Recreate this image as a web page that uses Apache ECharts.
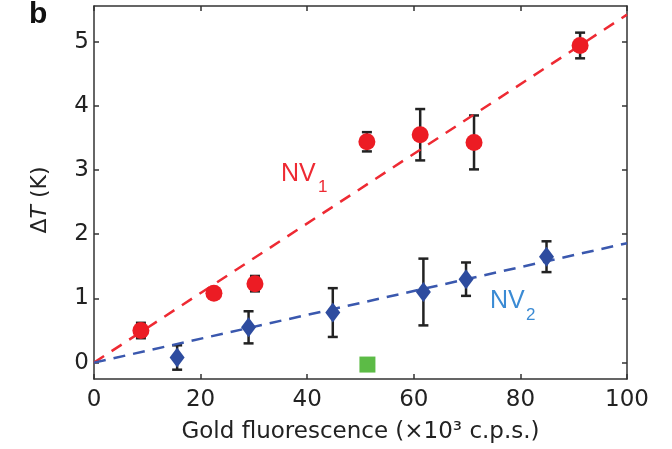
<!DOCTYPE html>
<html>
<head>
<meta charset="utf-8">
<script src="https://cdn.jsdelivr.net/npm/echarts@6/dist/echarts.min.js"></script>
<style>
  html, body { margin: 0; padding: 0; background: #fff; }
  #chart { width: 672px; height: 449px; }
</style>
</head>
<body>
<div id="chart"></div>
<script>
// NV1: [x, dT, err]
var nv1Data = [[8.8, 0.50, 0.12], [22.5, 1.08, 0.04], [30.2, 1.23, 0.12], [51.2, 3.44, 0.15],
               [61.2, 3.55, 0.40], [71.3, 3.43, 0.42], [91.2, 4.94, 0.20]];
// NV2: [x, dT, err]
var nv2Data = [[15.6, 0.08, 0.19], [29.0, 0.55, 0.25], [44.8, 0.78, 0.38], [61.8, 1.10, 0.52],
               [69.8, 1.30, 0.26], [84.9, 1.65, 0.24]];
var controlData = [[51.3, -0.03]];
var fitNv1 = [[0, 0], [100, 5.42]];
var fitNv2 = [[0, 0], [100, 1.86]];
var xTicks = [0, 20, 40, 60, 80, 100];
var yTicks = [0, 1, 2, 3, 4, 5];

var myChart = echarts.init(document.getElementById('chart'));
var font = 'DejaVu Sans, sans-serif';
var font2 = 'Liberation Sans, Arial, sans-serif';

// error bars drawn with a custom series
function errRender(params, api) {
    var x = api.value(0), y = api.value(1), e = api.value(2);
    var top = api.coord([x, y + e]);
    var bot = api.coord([x, y - e]);
    var w = 5;
    var st = { stroke: '#222', lineWidth: 2.5 };
    return {
        type: 'group',
        children: [
            { type: 'line', shape: { x1: top[0], y1: top[1], x2: bot[0], y2: bot[1] }, style: st },
            { type: 'line', shape: { x1: top[0] - w, y1: top[1], x2: top[0] + w, y2: top[1] }, style: st },
            { type: 'line', shape: { x1: bot[0] - w, y1: bot[1], x2: bot[0] + w, y2: bot[1] }, style: st }
        ]
    };
}

var axisLineStyle = { color: '#333', width: 1.5 };
var option = {
    animation: false,
    grid: { left: 94, right: 45, top: 6, bottom: 70 },
    xAxis: [{
        type: 'value', min: 0, max: 100, interval: 20,
        axisLine: { onZero: false, lineStyle: axisLineStyle },
        axisTick: { inside: true, length: 5, lineStyle: axisLineStyle },
        axisLabel: { color: '#222', fontSize: 23, fontFamily: font, margin: 10,
                     customValues: xTicks },
        splitLine: { show: false },
        name: 'Gold fluorescence (\u00d710\u00b3 c.p.s.)',
        nameLocation: 'middle', nameGap: 42,
        nameTextStyle: { color: '#222', fontSize: 23, fontFamily: font }
    }, {
        type: 'value', min: 0, max: 100, interval: 20, position: 'top',
        axisLine: { onZero: false, lineStyle: axisLineStyle },
        axisTick: { inside: true, length: 5, lineStyle: axisLineStyle },
        axisLabel: { show: false }, splitLine: { show: false }
    }],
    yAxis: [{
        type: 'value', min: -0.255, max: 5.555,
        axisLine: { onZero: false, lineStyle: axisLineStyle },
        axisTick: { inside: true, length: 5, lineStyle: axisLineStyle, customValues: yTicks },
        axisLabel: { color: '#222', fontSize: 23, fontFamily: font, margin: 5, customValues: yTicks },
        splitLine: { show: false }
    }, {
        type: 'value', min: -0.255, max: 5.555, position: 'right',
        axisLine: { onZero: false, lineStyle: axisLineStyle },
        axisTick: { inside: true, length: 5, lineStyle: axisLineStyle, customValues: yTicks },
        axisLabel: { show: false }, splitLine: { show: false }
    }],
    series: [
        { type: 'line', data: fitNv1, symbol: 'none', silent: true,
          lineStyle: { color: '#ee2a33', width: 2.5, type: [12, 9] } },
        { type: 'line', data: fitNv2, symbol: 'none', silent: true,
          lineStyle: { color: '#3a58ae', width: 2.5, type: [12, 8] } },
        { type: 'custom', data: nv1Data, renderItem: errRender, z: 3 },
        { type: 'custom', data: nv2Data, renderItem: errRender, z: 3 },
        { type: 'scatter', data: nv1Data, symbol: 'circle', symbolSize: 17, z: 4,
          itemStyle: { color: '#ec1c24', opacity: 1 } },
        { type: 'scatter', data: nv2Data, symbol: 'diamond', symbolSize: [15, 20], z: 4,
          itemStyle: { color: '#2e4c9f', opacity: 1 } },
        { type: 'scatter', data: controlData, symbol: 'rect', symbolSize: 16, z: 4,
          itemStyle: { color: '#5cbb46', opacity: 1 } }
    ],
    graphic: [
        { type: 'text', left: 29, top: 0,
          style: { text: 'b', fill: '#111', font: 'bold 30px ' + font2 } },
        { type: 'text', x: 40, y: 200, rotation: Math.PI / 2,
          style: { text: '{n|\u0394}{i|T}{n| (K)}', textAlign: 'center', textVerticalAlign: 'middle',
                   rich: {
                       n: { fill: '#222', fontSize: 22, fontFamily: font },
                       i: { fill: '#222', fontSize: 22, fontFamily: font, fontStyle: 'italic' }
                   } } },
        { type: 'text', x: 281, y: 187,
          style: { text: 'NV', fill: '#ee2a33', font: '25px ' + font2, textVerticalAlign: 'bottom' } },
        { type: 'text', x: 318, y: 196,
          style: { text: '1', fill: '#ee2a33', font: '17px ' + font2, textVerticalAlign: 'bottom' } },
        { type: 'text', x: 490, y: 314,
          style: { text: 'NV', fill: '#3b8bd4', font: '25px ' + font2, textVerticalAlign: 'bottom' } },
        { type: 'text', x: 526, y: 324,
          style: { text: '2', fill: '#3b8bd4', font: '17px ' + font2, textVerticalAlign: 'bottom' } }
    ]
};
myChart.setOption(option);
</script>
</body>
</html>
